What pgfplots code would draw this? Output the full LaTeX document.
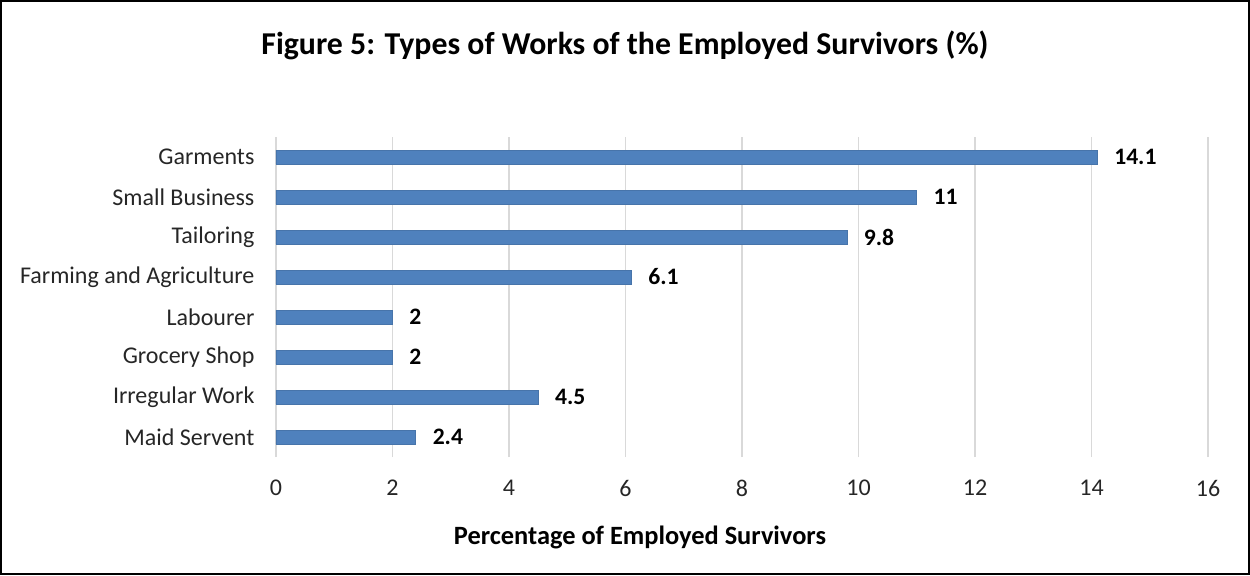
\documentclass[border=0pt]{standalone}
\usepackage{fontspec}
\setmainfont{Carlito}
\usepackage{pgfplots}
\pgfplotsset{compat=1.18}
\definecolor{barblue}{HTML}{4F81BD}
\definecolor{gridgray}{HTML}{D9D9D9}
\begin{document}
\begin{tikzpicture}
\draw[line width=1pt] (0.5pt,0.5pt) rectangle (624.5pt,287pt);
\begin{axis}[
 at={(138pt,59pt)}, anchor=south west,
 scale only axis, width=466pt, height=160pt,
 /pgf/number format/assume math mode=true,
 xbar, bar width=7pt,
 xmin=0, xmax=16, xtick={0,2,...,16},
 ymin=-0.5, ymax=7.5, ytick={0,...,7},
 yticklabels={Maid Servent, Irregular Work, Grocery Shop, Labourer, Farming and Agriculture, Tailoring, Small Business, Garments},
 axis line style={draw=none},
 tick style={draw=none},
 xmajorgrids, major grid style={gridgray, line width=0.9pt},
 ticklabel style={font=\fontsize{12}{14}\selectfont, text=black!85},
 xticklabel style={yshift=-8pt},
 yticklabel style={xshift=-3pt},
 nodes near coords,
 nodes near coords style={font=\fontsize{11.8}{14}\selectfont\bfseries, anchor=west, xshift=5pt},
 clip=false,
]
\addplot[fill=barblue, draw=barblue!90!black, line width=0.3pt] coordinates {
(2.4,0) (4.5,1) (2,2) (2,3) (6.1,4) (9.8,5) (11,6) (14.1,7)
};
\end{axis}
\node[font=\fontsize{15.9}{18}\selectfont\bfseries] at (312.5pt,265pt) {Figure 5: Types of Works of the Employed Survivors (\%)};
\node[font=\fontsize{13.2}{15}\selectfont\bfseries] at (320pt,19pt) {Percentage of Employed Survivors};
\end{tikzpicture}
\end{document}
